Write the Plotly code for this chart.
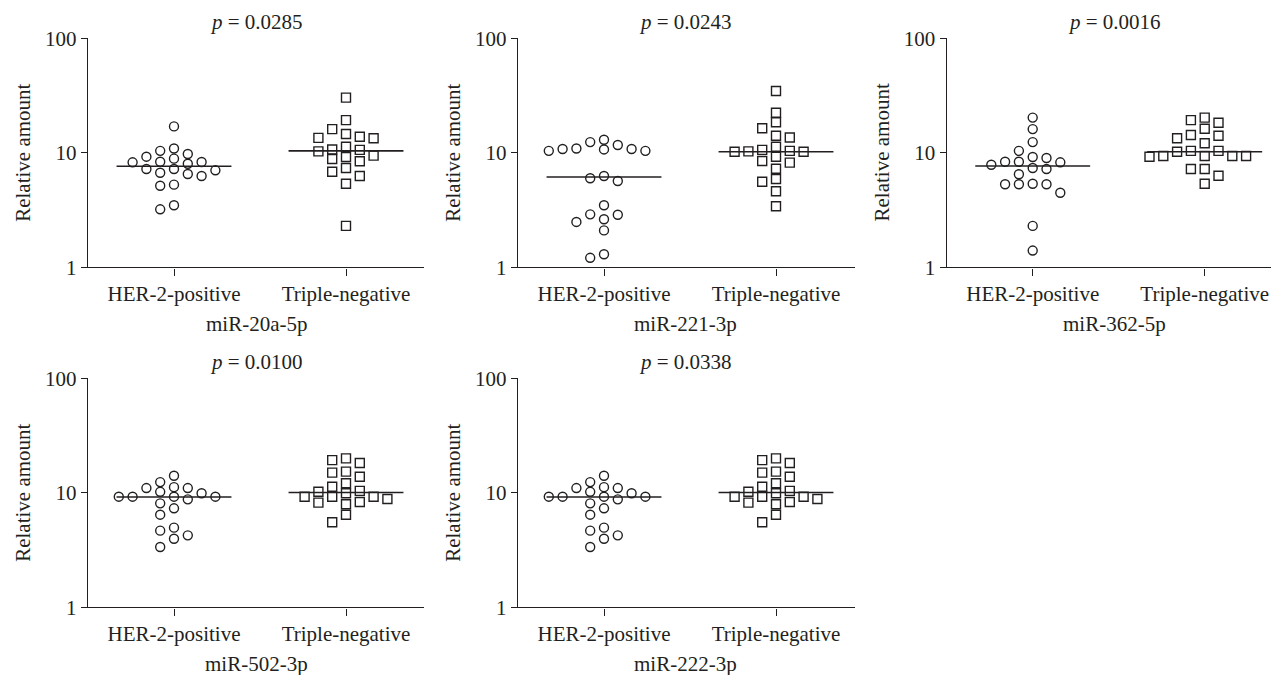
import plotly.graph_objects as go

# ---------------- data ----------------
categories = ["HER-2-positive", "Triple-negative"]
mirnas = ["miR-20a-5p", "miR-221-3p", "miR-362-5p", "miR-502-3p", "miR-222-3p"]
p_values = ["0.0285", "0.0243", "0.0016", "0.0100", "0.0338"]
y_tick_vals = [1, 10, 100]
y_tick_text = ["1", "10", "100"]

her_20a = [17.0, 10.9, 9.76, 9.25, 10.4, 8.89, 8.36, 8.26, 8.03, 8.31,
           7.22, 7.03, 7.22, 6.53, 6.27, 6.70, 5.27, 5.16, 3.21, 3.48]
tn_20a = [30.3, 19.3, 16.1, 13.8, 14.6, 13.4, 13.5, 11.3, 10.6, 10.3,
          10.7, 9.44, 8.83, 8.43, 9.19, 7.36, 6.84, 6.27, 5.37, 2.30]

her_221 = [11.7, 10.8, 10.7, 13.0, 10.4, 12.4, 10.4, 10.8, 10.9, 5.99,
           5.67, 6.27, 3.48, 2.88, 2.90, 2.63, 2.49, 2.10, 1.21, 1.30]
tn_221 = [34.7, 22.4, 18.5, 16.4, 13.6, 14.1, 11.3, 10.2, 10.4, 10.2,
          10.3, 10.6, 9.25, 8.48, 8.20, 7.26, 5.90, 5.59, 4.61, 3.41]

her_362 = [20.3, 16.1, 12.4, 10.4, 9.01, 9.19, 8.36, 7.87, 7.22, 7.36,
           8.26, 8.36, 6.49, 5.37, 5.31, 5.31, 5.31, 4.48, 2.30, 1.40]
tn_362 = [18.3, 19.3, 20.3, 16.2, 13.4, 14.3, 14.1, 12.1, 9.38, 9.38,
          10.4, 10.2, 10.4, 9.25, 9.38, 9.38, 7.22, 7.22, 6.31, 5.37]

her_502 = [9.9, 9.25, 11.2, 9.25, 8.09, 11.0, 12.4, 11.0, 8.77, 14.1,
           9.25, 9.25, 10.2, 7.32, 6.44, 4.96, 4.25, 4.67, 3.97, 3.36]
tn_502 = [19.3, 20.0, 18.2, 15.3, 13.8, 15.0, 12.1, 11.3, 9.25, 8.83,
          10.4, 9.9, 10.2, 8.20, 7.94, 8.31, 9.25, 9.25, 6.44, 5.53]

her_222 = [9.9, 9.25, 11.2, 9.25, 8.09, 11.0, 12.4, 11.0, 8.77, 14.1,
           9.25, 9.25, 10.2, 7.32, 6.44, 4.96, 4.25, 4.67, 3.97, 3.36]
tn_222 = [19.3, 20.0, 18.2, 15.3, 13.8, 15.0, 12.1, 11.3, 9.25, 8.83,
          10.4, 9.9, 10.2, 8.20, 7.94, 8.31, 9.25, 9.25, 6.44, 5.53]

median_her = [7.62, 6.15, 7.67, 9.19, 9.19]
median_tn = [10.4, 10.2, 10.2, 10.05, 10.05]

her_groups = [her_20a, her_221, her_362, her_502, her_222]
tn_groups = [tn_20a, tn_221, tn_362, tn_502, tn_222]

# ---------------- layout geometry ----------------
W, H = 1271, 675
INK = "#231f20"
FONT = "Liberation Serif"
FS = 21
CAT_PX = 172.0          # pixels between the two categories
PX_PER_DECADE = 114.5   # pixels per log decade
STEP_PX = 13.8          # horizontal swarm step
MIN_DY_PX = 9.5         # vertical clearance in one swarm column
HALF_LINE = 0.334       # half width of the median line (category units)

# panel pixel boxes: (left, right, top, bottom)
boxes = [
    (88.0, 424.0, 38.3, 267.3),
    (518.0, 855.0, 38.3, 267.3),
    (946.7, 1271.0, 38.3, 267.3),
    (88.0, 424.0, 378.3, 607.3),
    (518.0, 855.0, 378.3, 607.3),
]


def swarm_offsets(values):
    """Greedy beeswarm on discrete columns; returns x offsets in category units."""
    import math
    order = sorted(range(len(values)), key=lambda i: -values[i])
    placed = {}
    offs = [0.0] * len(values)
    slots = [0]
    for k in range(1, 12):
        slots += [-k, k]
    for i in order:
        ypx = math.log10(values[i]) * PX_PER_DECADE
        for s in slots:
            if all(abs(ypx - q) >= MIN_DY_PX for q in placed.get(s, [])):
                placed.setdefault(s, []).append(ypx)
                offs[i] = s * STEP_PX / CAT_PX
                break
    return offs


fig = go.Figure()
annotations = []

for p in range(5):
    n = p + 1
    left, right, top, bottom = boxes[p]
    xa = "x" if n == 1 else f"x{n}"
    ya = "y" if n == 1 else f"y{n}"

    for ci, (vals, sym, med) in enumerate([
        (her_groups[p], "circle-open", median_her[p]),
        (tn_groups[p], "square-open", median_tn[p]),
    ]):
        offs = swarm_offsets(vals)
        fig.add_trace(go.Scatter(
            x=[ci - HALF_LINE, ci + HALF_LINE], y=[med, med],
            mode="lines", line=dict(color=INK, width=1.6),
            xaxis=xa, yaxis=ya, hoverinfo="skip", showlegend=False))
        fig.add_trace(go.Scatter(
            x=[ci + o for o in offs], y=vals, mode="markers",
            marker=dict(symbol=sym, size=9, color=INK, line=dict(width=1.4)),
            xaxis=xa, yaxis=ya, showlegend=False))

    x_right = (right - left) / CAT_PX - 0.5
    axis_font = dict(family=FONT, size=FS, color=INK)
    fig.layout[f"xaxis{'' if n == 1 else n}"] = dict(
        domain=[left / W, right / W], anchor=ya, range=[-0.5, x_right],
        tickvals=[0, 1], ticktext=categories, tickfont=axis_font,
        showline=True, linecolor=INK, linewidth=1.4, ticks="outside",
        ticklen=7, tickwidth=1.4, tickcolor=INK, showgrid=False,
        zeroline=False, automargin=False, fixedrange=True)
    fig.layout[f"yaxis{'' if n == 1 else n}"] = dict(
        domain=[1 - bottom / H, 1 - top / H], anchor=xa, type="log",
        range=[0, 2], tickvals=y_tick_vals, ticktext=y_tick_text,
        tickfont=axis_font, showline=True, linecolor=INK, linewidth=1.4,
        ticks="outside", ticklen=6, tickwidth=1.4, tickcolor=INK,
        showgrid=False, zeroline=False, automargin=False, fixedrange=True)

    cx = (left + 168.0) / W
    annotations.append(dict(
        text=f"<i>p</i> = {p_values[p]}", x=cx, y=1 - (top - 16.5) / H,
        xref="paper", yref="paper", showarrow=False,
        xanchor="center", yanchor="middle",
        font=dict(family=FONT, size=FS, color=INK)))
    annotations.append(dict(
        text=mirnas[p], x=cx, y=1 - (bottom + 56.5) / H,
        xref="paper", yref="paper", showarrow=False,
        xanchor="center", yanchor="middle",
        font=dict(family=FONT, size=FS, color=INK)))
    annotations.append(dict(
        text="Relative amount", x=(left - 65.0) / W,
        y=1 - ((top + bottom) / 2) / H,
        xref="paper", yref="paper", showarrow=False, textangle=-90,
        xanchor="center", yanchor="middle",
        font=dict(family=FONT, size=FS, color=INK)))

fig.update_layout(
    width=W, height=H, margin=dict(l=0, r=0, t=0, b=0),
    paper_bgcolor="white", plot_bgcolor="white",
    showlegend=False, annotations=annotations,
    font=dict(family=FONT, size=FS, color=INK),
)

fig.write_html("out.html")
